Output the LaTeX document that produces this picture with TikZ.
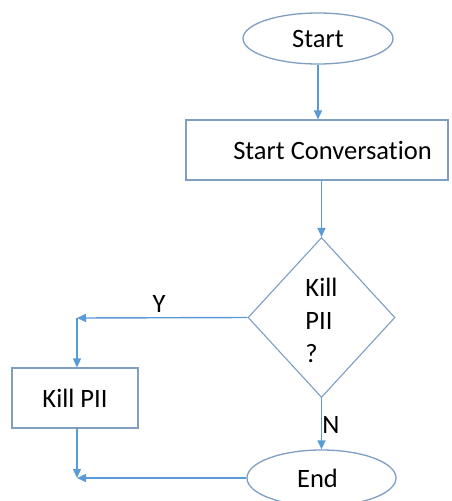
\documentclass[tikz,border=0pt]{standalone}
\usepackage{fontspec}
\setmainfont{Carlito}[Ligatures=NoCommon]
\usetikzlibrary{shapes.geometric,arrows.meta,calc}
\definecolor{conn}{HTML}{5B9BD5}
\definecolor{shapeline}{HTML}{7F9EC2}
\begin{document}
\begin{tikzpicture}[x=1pt,y=-1pt,
  every node/.style={font=\fontsize{26.5}{33}\selectfont, text=black},
  term/.style={ellipse, draw=shapeline, line width=1.3pt, fill=white, inner sep=0pt},
  procbox/.style={rectangle, draw=shapeline, line width=1.1pt, fill=white, inner sep=0pt},
  decide/.style={diamond, draw=shapeline, line width=1.1pt, fill=white, inner sep=0pt},
  conn/.style={draw=conn, line width=1.4pt, -{Triangle[length=9pt,width=8pt]}},
  lab/.style={anchor=base, inner sep=0pt}
]
\useasboundingbox (0,0) rectangle (451,501);
\clip (0,0) rectangle (451,501);

\node[term, minimum width=150pt, minimum height=51pt] (start) at (318,38.5) {Start};
\node[procbox, minimum width=262pt, minimum height=60pt] (conv) at (317,150) {\hspace*{31pt}Start Conversation};
\node[decide, minimum width=147pt, minimum height=160pt] (dia) at (321.5,317.5) {};
\node[align=left, inner sep=0pt] (dtext) at (321.5,320) {Kill\\PII\\?};
\node[procbox, minimum width=126pt, minimum height=60pt] (kill) at (75,398) {Kill PII};
\node[term, minimum width=149pt, minimum height=56pt] (end) at (321.5,478) {\hspace*{-8pt}End};

\coordinate (yc) at (77,318);
\coordinate (ec) at (77,478);

\draw[conn] (start.south) -- (start.south |- conv.north);
\draw[conn] (dia.north |- conv.south) -- (dia.north);
\draw[conn] (dia.west) -- (yc);
\draw[conn] (yc) -- (yc |- kill.north);
\draw[conn] (yc |- kill.south) -- (ec);
\draw[conn] (dia.south) -- (end.north);
\draw[conn] (end.west) -- (ec);

\node[lab] (ylab) at (159,312) {Y};
\node[lab] (nlab) at (331,433) {N};
\end{tikzpicture}
\end{document}
